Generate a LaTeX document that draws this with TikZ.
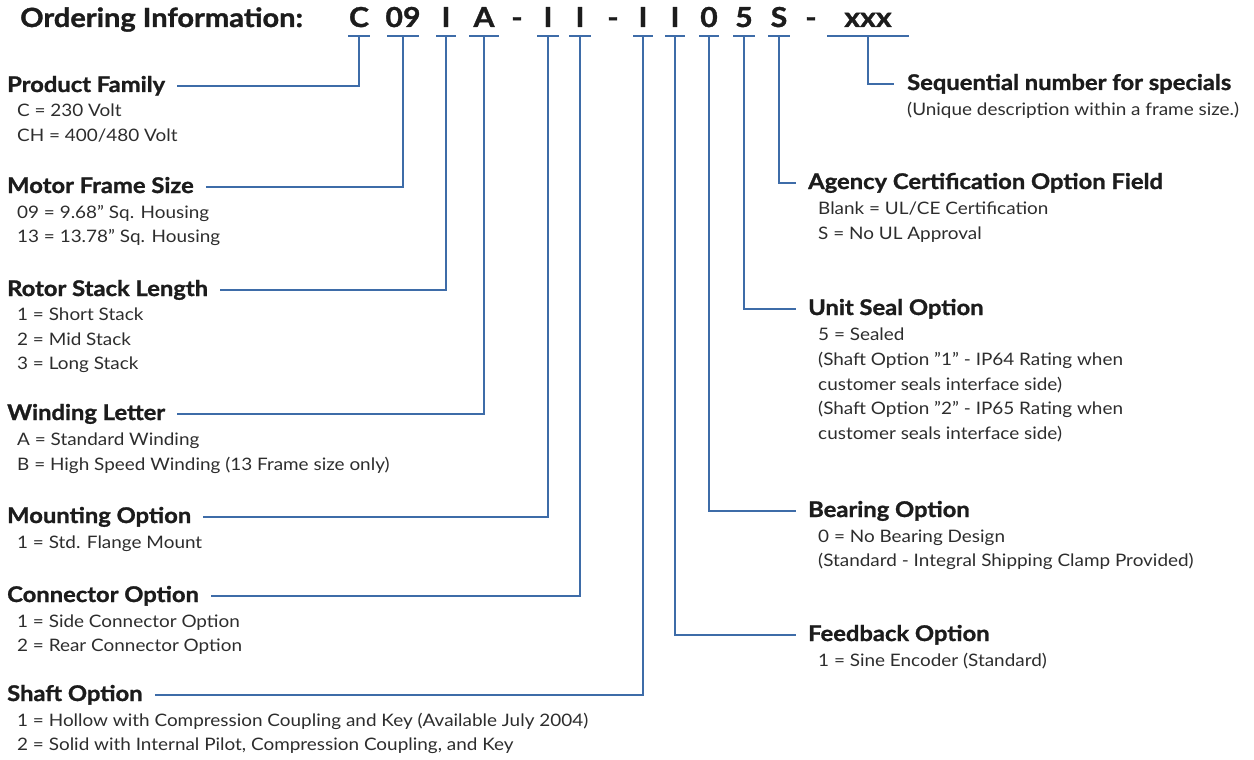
\documentclass[tikz,border=0pt]{standalone}
\usepackage{fontspec}
\setmainfont{Lato}[FakeStretch=1.1, BoldFeatures={FakeBold=1.2}]
\usetikzlibrary{calc}
\definecolor{lineblue}{RGB}{62,108,168}
\definecolor{titlecol}{RGB}{28,28,28}
\definecolor{bodycol}{RGB}{45,45,45}
\tikzset{
  hdr/.style={font=\fontsize{26.4}{30}\selectfont\bfseries, text=titlecol, inner sep=0pt, anchor=base west},
  codechar/.style={font=\fontsize{27.5}{30}\selectfont\bfseries, text=titlecol, inner sep=0pt, anchor=base},
  ttl/.style={font=\fontsize{21.6}{24}\selectfont\bfseries, text=titlecol, inner sep=0pt, anchor=base west},
  bdy/.style={font=\fontsize{17.2}{20}\selectfont, text=bodycol, inner sep=0pt, anchor=base west},
  conn/.style={draw=lineblue, line width=1.8pt},
  uline/.style={draw=lineblue, line width=1.6pt},
}
\begin{document}
\begin{tikzpicture}[x=1pt,y=-1pt]
\useasboundingbox (0,0) rectangle (1254,760);

% header
\node[hdr] (hdr) at (20,27) {Ordering Information:};
\node[codechar] (cC)  at (359,27) {C};
\node[codechar] (c09) at (403,27) {09};
\node[codechar] (cI1) at (446,27) {I};
\node[codechar] (cA)  at (484,27) {A};
\node[codechar] (d1)  at (517,27) {-};
\node[codechar] (cI2) at (548,27) {I};
\node[codechar] (cI3) at (580,27) {I};
\node[codechar] (d2)  at (613,27) {-};
\node[codechar] (cI4) at (643,27) {I};
\node[codechar] (cI5) at (675,27) {I};
\node[codechar] (c0)  at (709,27) {0};
\node[codechar] (c5)  at (744,27) {5};
\node[codechar] (cS)  at (779,27) {S};
\node[codechar] (d3)  at (811,27) {-};
\node[codechar] (cx)  at (868,27) {xxx};

% underline anchor points
\foreach \n/\x/\w in {C/359/11, 09/403/16, I1/446/10, A/484/15, I2/548/11, I3/580/11, I4/643/10, I5/675/10, 0/709/10, 5/744/11, S/779/11, x/868/41}{
  \coordinate (u\n) at (\x,36);
  \draw[uline] (\x-\w,36) -- (\x+\w,36);
}

% ---------- left blocks ----------
\node[ttl] (tPF) at (7,92) {Product Family};
\node[bdy] (bPF1) at (17,117) {C = 230 Volt};
\node[bdy] (bPF2) at (17,142) {CH = 400/480 Volt};

\node[ttl] (tMF) at (7,193) {Motor Frame Size};
\node[bdy] (bMF1) at (17,218) {09 = 9.68" Sq. Housing};
\node[bdy] (bMF2) at (17,242) {13 = 13.78" Sq. Housing};

\node[ttl] (tRS) at (7,296) {Rotor Stack Length};
\node[bdy] (bRS1) at (17,320.5) {1 = Short Stack};
\node[bdy] (bRS2) at (17,345) {2 = Mid Stack};
\node[bdy] (bRS3) at (17,369.5) {3 = Long Stack};

\node[ttl] (tWL) at (7,420) {Winding Letter};
\node[bdy] (bWL1) at (17,445) {A = Standard Winding};
\node[bdy] (bWL2) at (17,470) {B = High Speed Winding (13 Frame size only)};

\node[ttl] (tMO) at (7,523) {Mounting Option};
\node[bdy] (bMO1) at (17,548) {1 = Std. Flange Mount};

\node[ttl] (tCO) at (7,602) {Connector Option};
\node[bdy] (bCO1) at (17,627) {1 = Side Connector Option};
\node[bdy] (bCO2) at (17,651) {2 = Rear Connector Option};

\node[ttl] (tSO) at (7,701) {Shaft Option};
\node[bdy] (bSO1) at (17,726) {1 = Hollow with Compression Coupling and Key (Available July 2004)};
\node[bdy] (bSO2) at (17,750) {2 = Solid with Internal Pilot, Compression Coupling, and Key};

% ---------- right blocks ----------
\node[ttl] (tSQ) at (907,90) {Sequential number for specials};
\node[bdy] (bSQ1) at (907,115) {(Unique description within a frame size.)};

\node[ttl] (tAG) at (808,189) {Agency Certification Option Field};
\node[bdy] (bAG1) at (818,214) {Blank = UL/CE Certification};
\node[bdy] (bAG2) at (818,239) {S = No UL Approval};

\node[ttl] (tUS) at (808,315) {Unit Seal Option};
\node[bdy] (bUS1) at (818,340) {5 = Sealed};
\node[bdy] (bUS2) at (818,365) {(Shaft Option "1" - IP64 Rating when};
\node[bdy] (bUS3) at (818,390) {customer seals interface side)};
\node[bdy] (bUS4) at (818,414) {(Shaft Option "2" - IP65 Rating when};
\node[bdy] (bUS5) at (818,439) {customer seals interface side)};

\node[ttl] (tBO) at (808,517) {Bearing Option};
\node[bdy] (bBO1) at (818,542) {0 = No Bearing Design};
\node[bdy] (bBO2) at (818,566) {(Standard - Integral Shipping Clamp Provided)};

\node[ttl] (tFB) at (808,641) {Feedback Option};
\node[bdy] (bFB1) at (818,666) {1 = Sine Encoder (Standard)};

% ---------- connectors ----------
\draw[conn] ($(tPF.base east)+(12,-6)$) -| (uC);
\draw[conn] ($(tMF.base east)+(12,-6)$) -| (u09);
\draw[conn] ($(tRS.base east)+(12,-6)$) -| (uI1);
\draw[conn] ($(tWL.base east)+(12,-6)$) -| (uA);
\draw[conn] ($(tMO.base east)+(12,-6)$) -| (uI2);
\draw[conn] ($(tCO.base east)+(12,-6)$) -| (uI3);
\draw[conn] ($(tSO.base east)+(12,-6)$) -| (uI4);

\draw[conn] (uI5) |- ($(tFB.base west)+(-12,-6)$);
\draw[conn] (u0)  |- ($(tBO.base west)+(-12,-6)$);
\draw[conn] (u5)  |- ($(tUS.base west)+(-12,-6)$);
\draw[conn] (uS)  |- ($(tAG.base west)+(-12,-6)$);
\draw[conn] (ux)  |- ($(tSQ.base west)+(-13,-6)$);
\end{tikzpicture}
\end{document}
